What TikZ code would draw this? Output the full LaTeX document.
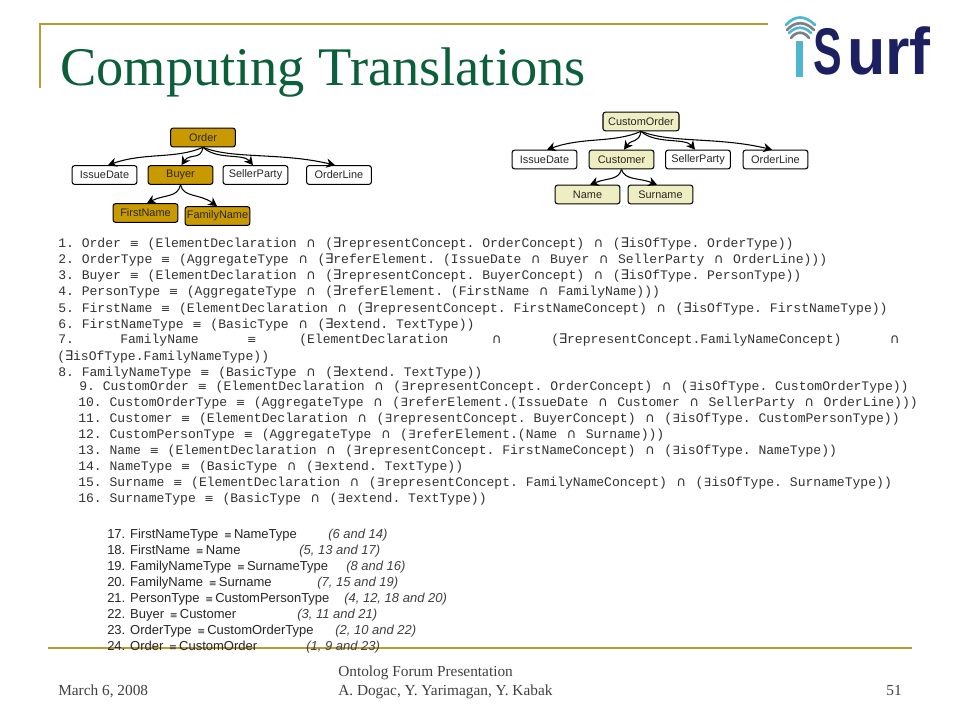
\documentclass[tikz,border=0pt]{standalone}
\usepackage{fontspec}
\usetikzlibrary{arrows.meta,calc}
\setmainfont{Liberation Serif}
\setsansfont{Liberation Sans}
\setmonofont{Liberation Mono}
\newfontfamily\symf{DejaVu Sans}
\definecolor{gold}{HTML}{B99A33}
\definecolor{titlegreen}{HTML}{0B5F3A}
\definecolor{darkgold}{HTML}{C99A00}
\definecolor{palegold}{HTML}{EEEEC2}
\definecolor{navy}{HTML}{1C2060}
\definecolor{cyanlogo}{HTML}{4FB6D2}
\definecolor{greylogo}{HTML}{7D8088}
\newcommand\eqi{\makebox[8.25pt]{\symf\fontsize{8.5pt}{10pt}\selectfont ≡}}
\newcommand\capi{\makebox[9.75pt]{\symf\fontsize{10pt}{12pt}\selectfont ∩}}
\newcommand\exi{\makebox[6pt]{\symf\fontsize{10pt}{12pt}\selectfont ∃}}
\newcommand\exs{\makebox[6pt]{\symf\fontsize{8.5pt}{12pt}\selectfont ∃}}
\newcommand\eqs{\,{\symf\fontsize{7pt}{10pt}\selectfont ≡}\,}
\newcommand\conn[5]{\draw[link] (#1.south) .. controls ($(#1.south)+(#2)$) and ($(#3.north)+(#4,0)+(#5)$) .. ($(#3.north)+(#4,0)$);}
\tikzset{
  box/.style={draw=black,line width=.8pt,rounded corners=1.8pt,minimum width=48.6pt,minimum height=14pt,inner sep=0pt,
    font=\sffamily\fontsize{8.2pt}{10pt}\selectfont,text=black!85,fill=white},
  dgold/.style={box,fill=darkgold},
  pale/.style={box,fill=palegold},
  mono/.style={anchor=base west,inner sep=0pt,font=\ttfamily\fontsize{9.8pt}{12pt}\selectfont,text=black!80},
  res/.style={anchor=base west,inner sep=0pt,font=\sffamily\fontsize{9.75pt}{12pt}\selectfont,text=black!85},
  ref/.style={anchor=base west,inner sep=0pt,font=\sffamily\itshape\fontsize{9.75pt}{12pt}\selectfont,text=black!75},
  foot/.style={anchor=base west,inner sep=0pt,font=\fontsize{11.5pt}{14pt}\selectfont,text=black!75},
  link/.style={line width=.8pt,-{Stealth[length=6.5pt,width=7pt]}},
  rule/.style={gold,line width=1.8pt},
  arcl/.style={line width=2pt,line cap=round},
}
\begin{document}
\begin{tikzpicture}[x=.75pt,y=-.75pt]
\useasboundingbox (0,0) rectangle (960,720);
\fill[white] (0,0) rectangle (960,720);
% frame
\draw[rule] (40,88) -- (40,24) -- (768,24);
\draw[rule] (48,648) -- (912,648);
\node[anchor=base west,inner sep=0pt,text=titlegreen,font=\fontsize{40.8pt}{46pt}\selectfont] (title) at (60,86) {Computing Translations};
% logo
\fill[cyanlogo] (796,41) rectangle (803,77);
\draw[arcl,cyanlogo] (786,25) .. controls (795,15) and (805,15) .. (815,25);
\draw[arcl,greylogo] (787,30) .. controls (795,21) and (805,21) .. (814,30);
\draw[arcl,cyanlogo] (789,33) .. controls (796,26) and (804,26) .. (811,33);
\draw[arcl,greylogo] (791,38) .. controls (796,31) and (804,31) .. (809,38);
\node[anchor=base west,inner sep=0pt,text=navy,font=\sffamily\bfseries\fontsize{49.5pt}{50pt}\selectfont] (logo) at (813,75) {\scalebox{.65}[1]{S}\hspace{4pt}\scalebox{.95}[1]{urf}};
% left tree
\node[dgold] (order) at (203,137.5) {Order};
\node[box] (issue) at (104.5,175) {IssueDate};
\node[dgold] (buyer) at (180.5,175) {Buyer};
\node[box] (seller) at (255.5,175) {SellerParty};
\node[box] (line) at (339,175) {OrderLine};
\node[dgold] (first) at (145.5,213) {FirstName};
\node[dgold] (family) at (217.5,216) {FamilyName};
\conn{order}{-28,12}{issue}{3.5}{37,-13}
\conn{order}{-2,13}{buyer}{1}{8,-12}
\conn{order}{14,13}{seller}{-2.5}{-10,-12}
\conn{order}{30,12}{line}{-4}{-55,-13}
\conn{buyer}{-3,13}{first}{1.5}{18,-9}
\conn{buyer}{3,13}{family}{-.5}{-18,-13}
% right tree
\node[pale,minimum width=57pt] (corder) at (641,121.5) {CustomOrder};
\node[box] (issuer) at (544.5,159.5) {IssueDate};
\node[pale] (customer) at (621.5,159.5) {Customer};
\node[box] (sellerr) at (698,159.5) {SellerParty};
\node[box] (liner) at (775.5,159.5) {OrderLine};
\node[pale] (name) at (587.5,194.5) {Name};
\node[pale] (surname) at (660.5,194.5) {Surname};
\conn{corder}{-28,12}{issuer}{2.5}{37,-13}
\conn{corder}{-2,12}{customer}{2.5}{8,-11}
\conn{corder}{14,13}{sellerr}{-3}{-10,-12}
\conn{corder}{30,12}{liner}{-3.5}{-55,-13}
\conn{customer}{-3,11}{name}{2.5}{18,-7}
\conn{customer}{3,11}{surname}{-3.5}{-18,-7}
% definitions, group 1
\node[mono] (l1) at (58,248) {1. Order \eqi{} (ElementDeclaration \capi{} (\exi{}representConcept. OrderConcept) \capi{} (\exi{}isOfType. OrderType))};
\node[mono] (l2) at (58,264) {2. OrderType \eqi{} (AggregateType \capi{} (\exi{}referElement. (IssueDate \capi{} Buyer \capi{} SellerParty \capi{} OrderLine)))};
\node[mono] (l3) at (58,280) {3. Buyer \eqi{} (ElementDeclaration \capi{} (\exi{}representConcept. BuyerConcept) \capi{} (\exi{}isOfType. PersonType))};
\node[mono] (l4) at (58,296) {4. PersonType \eqi{} (AggregateType \capi{} (\exi{}referElement. (FirstName \capi{} FamilyName)))};
\node[mono] (l5) at (58,312) {5. FirstName \eqi{} (ElementDeclaration \capi{} (\exi{}representConcept. FirstNameConcept) \capi{} (\exi{}isOfType. FirstNameType))};
\node[mono] (l6) at (58,328) {6. FirstNameType \eqi{} (BasicType \capi{} (\exi{}extend. TextType))};
\node[mono] (l7a) at (58,344) {7.};
\node[mono] (l7b) at (120,344) {FamilyName};
\node[mono] (l7c) at (246,344) {\eqi};
\node[mono] (l7d) at (299,344) {(ElementDeclaration};
\node[mono] (l7e) at (490,344) {\capi};
\node[mono] (l7f) at (551,344) {(\exi{}representConcept.FamilyNameConcept)};
\node[mono] (l7g) at (888,344) {\capi};
\node[mono] (l7h) at (57,360) {(\exi{}isOfType.FamilyNameType))};
\node[mono] (l8) at (58,376) {8. FamilyNameType \eqi{} (BasicType \capi{} (\exi{}extend. TextType))};
% definitions, group 2
\node[mono] (l9) at (79,390) {9. CustomOrder \eqi{} (ElementDeclaration \capi{} (\exs{}representConcept. OrderConcept) \capi{} (\exs{}isOfType. CustomOrderType))};
\node[mono] (l10) at (78,406) {10. CustomOrderType \eqi{} (AggregateType \capi{} (\exs{}referElement.(IssueDate \capi{} Customer \capi{} SellerParty \capi{} OrderLine)))};
\node[mono] (l11) at (78,422) {11. Customer \eqi{} (ElementDeclaration \capi{} (\exs{}representConcept. BuyerConcept) \capi{} (\exs{}isOfType. CustomPersonType))};
\node[mono] (l12) at (78,438) {12. CustomPersonType \eqi{} (AggregateType \capi{} (\exs{}referElement.(Name \capi{} Surname)))};
\node[mono] (l13) at (78,454) {13. Name \eqi{} (ElementDeclaration \capi{} (\exs{}representConcept. FirstNameConcept) \capi{} (\exs{}isOfType. NameType))};
\node[mono] (l14) at (78,470) {14. NameType \eqi{} (BasicType \capi{} (\exs{}extend. TextType))};
\node[mono] (l15) at (78,486) {15. Surname \eqi{} (ElementDeclaration \capi{} (\exs{}representConcept. FamilyNameConcept) \capi{} (\exs{}isOfType. SurnameType))};
\node[mono] (l16) at (78,502) {16. SurnameType \eqi{} (BasicType \capi{} (\exs{}extend. TextType))};
% results
\node[res] (r17) at (107,538) {17. FirstNameType \eqs{}NameType};
\node[ref] (p17) at (328,538) {(6 and 14)};
\node[res] (r18) at (107,554) {18. FirstName \eqs{}Name};
\node[ref] (p18) at (299,554) {(5, 13 and 17)};
\node[res] (r19) at (107,570) {19. FamilyNameType \eqs{}SurnameType};
\node[ref] (p19) at (346,570) {(8 and 16)};
\node[res] (r20) at (107,586) {20. FamilyName \eqs{}Surname};
\node[ref] (p20) at (317,586) {(7, 15 and 19)};
\node[res] (r21) at (107,602) {21. PersonType \eqs{}CustomPersonType};
\node[ref] (p21) at (344,602) {(4, 12, 18 and 20)};
\node[res] (r22) at (107,618) {22. Buyer \eqs{}Customer};
\node[ref] (p22) at (297,618) {(3, 11 and 21)};
\node[res] (r23) at (107,634) {23. OrderType \eqs{}CustomOrderType};
\node[ref] (p23) at (335,634) {(2, 10 and 22)};
\node[res] (r24) at (107,650) {24. Order \eqs{}CustomOrder};
\node[ref] (p24) at (306,650) {(1, 9 and 23)};
% footer
\node[foot] (date) at (58,695) {March 6, 2008};
\node[foot] (f1) at (338,676) {Ontolog Forum Presentation};
\node[foot] (f2) at (338,695) {A. Dogac, Y. Yarimagan, Y. Kabak};
\node[foot,anchor=base east] (pg) at (902,695) {51};
\end{tikzpicture}
\end{document}
